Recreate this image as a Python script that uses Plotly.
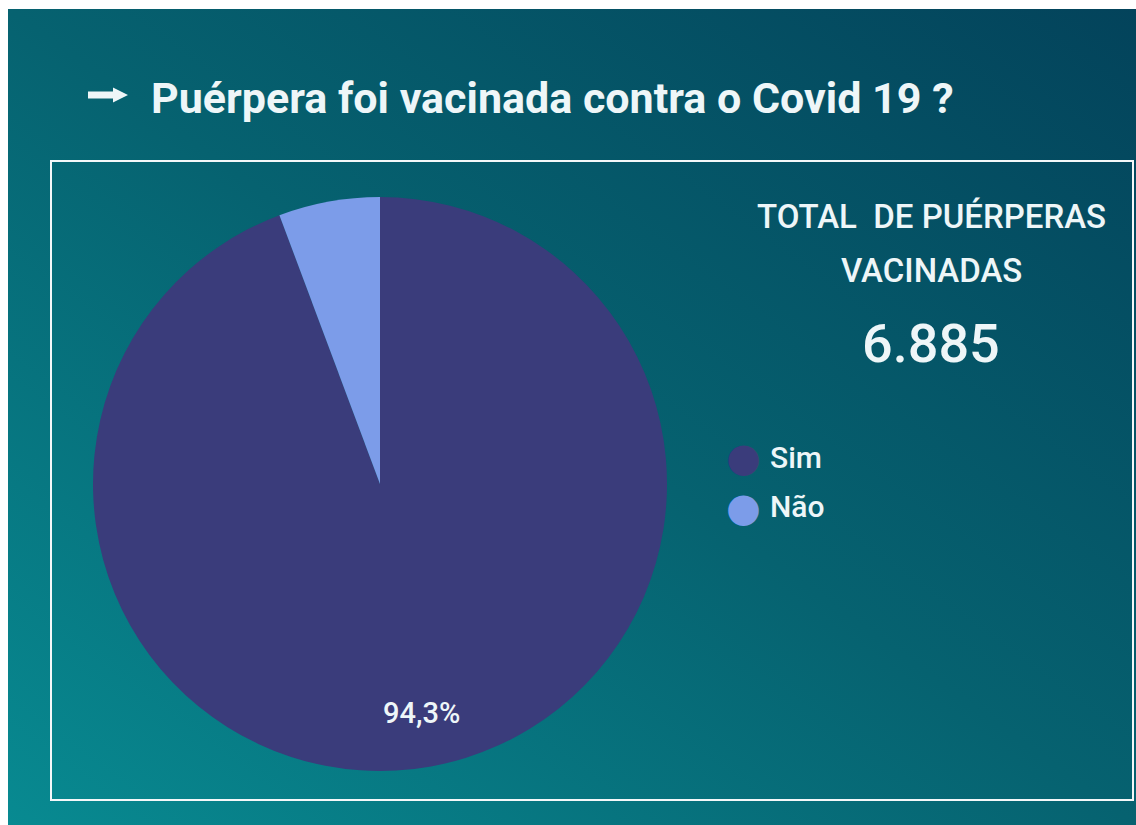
import base64
import math
import plotly.graph_objects as go

# Vaccination status of postpartum women
categories = ["Sim", "Não"]
counts = [6885, 416]
slice_colors = ["#3a3c7b", "#7c9ce9"]

title_text = "Puérpera foi vacinada contra o Covid 19 ?"
kpi_lines = ["TOTAL\u00a0\u00a0DE PUÉRPERAS", "VACINADAS"]
kpi_value = f"{counts[0]:,}".replace(",", ".")

W, H = 1136, 825
TEXT = "#eef6f8"
FONT = "Roboto, 'Open Sans', sans-serif"

# Pie placement in pixels (centre and radius)
CX, CY, R = 380, 484, 287

# Diagonal teal gradient used as the card background
svg = (
    "<svg xmlns='http://www.w3.org/2000/svg' width='1128' height='816' "
    "preserveAspectRatio='none' viewBox='0 0 1128 816'>"
    "<defs><linearGradient id='g' x1='0' y1='1' x2='1' y2='0'>"
    "<stop offset='0' stop-color='#088a91'/>"
    "<stop offset='0.5' stop-color='#066270'/>"
    "<stop offset='1' stop-color='#03435b'/>"
    "</linearGradient></defs>"
    "<rect width='1128' height='816' fill='url(#g)'/></svg>"
)
bg_uri = "data:image/svg+xml;base64," + base64.b64encode(svg.encode()).decode()

def px_x(x):
    return x / W

def px_y(y):
    return 1 - y / H

def path_from_px(points):
    parts = [f"{'M' if i == 0 else 'L'}{px_x(x):.5f},{px_y(y):.5f}" for i, (x, y) in enumerate(points)]
    return " ".join(parts) + " Z"

fig = go.Figure(
    go.Pie(
        labels=categories,
        values=counts,
        marker=dict(colors=slice_colors, line=dict(width=0)),
        sort=False,
        direction="clockwise",
        rotation=0,
        textinfo="none",
        showlegend=False,
        hoverinfo="label+value+percent",
        domain=dict(x=[px_x(CX - R), px_x(CX + R)], y=[px_y(CY + R), px_y(CY - R)]),
    )
)

annotations = [
    dict(text=f"<b>{title_text}</b>", x=px_x(149), y=px_y(98), xanchor="left", yanchor="middle",
         font=dict(family=FONT, size=43, color=TEXT)),
    dict(text=kpi_lines[0], x=px_x(931), y=px_y(217), xanchor="center", yanchor="middle",
         font=dict(family=FONT, size=33, color=TEXT, weight=500)),
    dict(text=kpi_lines[1], x=px_x(931), y=px_y(270), xanchor="center", yanchor="middle",
         font=dict(family=FONT, size=33, color=TEXT, weight=500)),
    dict(text=kpi_value, x=px_x(931), y=px_y(343), xanchor="center", yanchor="middle",
         font=dict(family=FONT, size=54, color=TEXT, weight=500)),
]

# Percentage label for the largest slice, placed along its mid-angle
total = sum(counts)
share = counts[0] / total
theta = 2 * math.pi * share / 2
rr = 0.81 * R
pct_text = f"{share * 100:.1f}%".replace(".", ",")
annotations.append(dict(text=pct_text, x=px_x(CX + rr * math.sin(theta)), y=px_y(CY - rr * math.cos(theta)),
                        xanchor="center", yanchor="middle",
                        font=dict(family=FONT, size=29, color=TEXT, weight=500)))

# Legend with round swatches
for i, (name, color) in enumerate(zip(categories, slice_colors)):
    y = 457 + i * 50
    annotations.append(dict(text="●", x=px_x(743), y=px_y(y), xanchor="center", yanchor="middle",
                            font=dict(family="DejaVu Sans", size=40, color=color)))
    annotations.append(dict(text=name, x=px_x(768), y=px_y(y), xanchor="left", yanchor="middle",
                            font=dict(family=FONT, size=30, color=TEXT, weight=500)))

for a in annotations:
    a.update(xref="paper", yref="paper", showarrow=False)

# Heavy arrow in front of the title
arrow = path_from_px([(88, 91.5), (113, 91.5), (113, 87.5), (128, 95), (113, 102.5), (113, 98.5), (88, 98.5)])

fig.update_layout(
    width=W,
    height=H,
    margin=dict(l=0, r=0, t=0, b=0),
    paper_bgcolor="#ffffff",
    plot_bgcolor="rgba(0,0,0,0)",
    separators=",.",
    images=[dict(source=bg_uri, xref="paper", yref="paper", x=px_x(8), y=px_y(9),
                 sizex=1 - px_x(8), sizey=px_y(9), xanchor="left", yanchor="top",
                 sizing="stretch", layer="below")],
    shapes=[
        dict(type="rect", xref="paper", yref="paper",
             x0=px_x(51), x1=px_x(1133), y0=px_y(800), y1=px_y(161),
             line=dict(color="#f4f8f9", width=2), fillcolor="rgba(0,0,0,0)"),
        dict(type="path", xref="paper", yref="paper", path=arrow,
             fillcolor=TEXT, line=dict(width=0)),
    ],
    annotations=annotations,
)

fig.write_html("out.html", config={"displayModeBar": False})
